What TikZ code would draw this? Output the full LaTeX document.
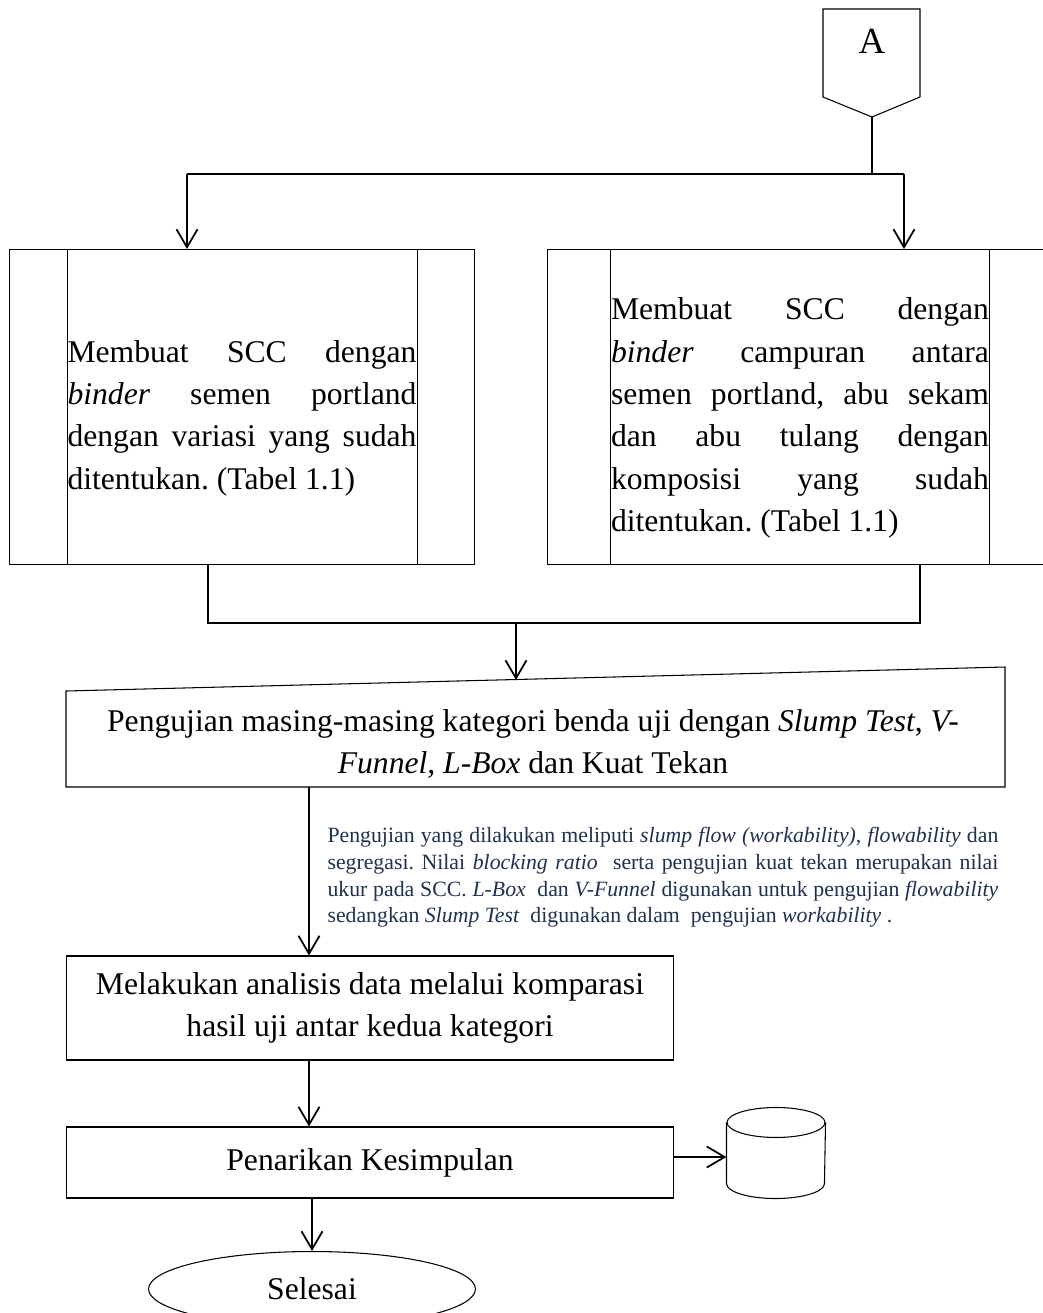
\documentclass[tikz,border=0pt]{standalone}
\usepackage{fontspec}
\setmainfont{Liberation Serif}
\usepackage{tikz, xcolor}
\usetikzlibrary{arrows.meta, shapes.geometric}

\definecolor{notecol}{HTML}{1F3050}
\newcommand{\bigtxt}{\fontsize{18}{24.1}\selectfont\frenchspacing}
\newcommand{\notetxt}{\fontsize{12.4}{15.2}\selectfont\frenchspacing}

\begin{document}
\begin{tikzpicture}[x=0.02cm, y=-0.02cm, line width=0.6pt,
    arr/.style={-{Straight Barb[length=3.6mm, width=4.2mm]}, line width=1pt},
    procbox/.style={rectangle, draw, inner sep=0pt, minimum height=6.3cm},
    proctext/.style={inner sep=0pt, font=\bigtxt, align=justify},
    stepbox/.style={rectangle, draw, inner sep=0pt, minimum width=12.15cm, font=\bigtxt, align=center},
    endnode/.style={ellipse, draw, inner sep=0pt, minimum width=6.54cm, minimum height=1.5cm, font=\bigtxt},
    store/.style={rectangle, inner sep=0pt, minimum height=1.8cm, minimum width=1.96cm}]

    \useasboundingbox (0,0) rectangle (1043,1313);

    % off-page connector
    \node[font=\fontsize{21}{24}\selectfont] (conA) at (872,41.5) {A};
    \coordinate (atip) at (872,117);
    \draw (823,9) -- (920,9) -- (920,97) -- (atip) -- (823,97) -- cycle;

    % two processes
    \node[procbox, minimum width=9.32cm] (mix1) at (242,407) {};
    \node[proctext, text width=6.98cm] (mix1txt) at (242,418)
        {Membuat SCC dengan\linebreak \textit{binder} semen portland\linebreak dengan variasi yang sudah\linebreak ditentukan. (Tabel 1.1)};
    \node[procbox, minimum width=10.12cm] (mix2) at (800,407) {};
    \node[proctext, text width=7.56cm] (mix2txt) at (800,418)
        {Membuat SCC dengan\linebreak \textit{binder} campuran antara\linebreak semen portland, abu sekam\linebreak dan abu tulang dengan\linebreak komposisi yang sudah\linebreak ditentukan. (Tabel 1.1)};
    \draw ([xshift=1.18cm]mix1.north west) -- ([xshift=1.18cm]mix1.south west);
    \draw ([xshift=-1.16cm]mix1.north east) -- ([xshift=-1.16cm]mix1.south east);
    \draw ([xshift=1.28cm]mix2.north west) -- ([xshift=1.28cm]mix2.south west);
    \draw ([xshift=-1.28cm]mix2.north east) -- ([xshift=-1.28cm]mix2.south east);

    % manual input
    \node[font=\bigtxt, align=center] (test) at (533,744)
        {Pengujian masing-masing kategori benda uji dengan \textit{Slump Test}, \textit{V-}\\ \textit{Funnel, L-Box} dan Kuat Tekan};
    \draw (66,691) -- (1005,667) -- (1005,787) -- (66,787) -- cycle;
    \coordinate (testin) at (516,680);
    \coordinate (testout) at (309,787);

    \node[anchor=north west, inner sep=0pt, text width=13.42cm, align=justify, font=\notetxt, text=notecol] (note) at (327,827)
        {Pengujian yang dilakukan meliputi \textit{slump flow (workability), flowability} dan\linebreak segregasi. Nilai \textit{blocking ratio}\ \ serta pengujian kuat tekan merupakan nilai\linebreak ukur pada SCC. \textit{L-Box}\ \ dan \textit{V-Funnel} digunakan untuk pengujian \textit{flowability}\linebreak sedangkan \textit{Slump Test}\ \ digunakan dalam\ \ pengujian \textit{workability} .};

    \node[stepbox, minimum height=2.08cm] (analisis) at (370,1008)
        {Melakukan analisis data melalui komparasi\\ hasil uji antar kedua kategori};
    \node[stepbox, minimum height=1.42cm] (simpul) at (370,1162.5) {Penarikan Kesimpulan};
    \node[endnode] (selesai) at (312,1289) {Selesai};

    % data store
    \node[store] (db) at (776,1153) {};
    \draw ([yshift=-0.3cm]db.north west) -- ([yshift=0.3cm]db.south west)
        arc[start angle=180, end angle=360, x radius=0.98cm, y radius=0.3cm]
        -- ([yshift=-0.3cm]db.north east);
    \draw ([yshift=-0.3cm]db.north) ellipse[x radius=0.98cm, y radius=0.3cm];

    % connectors
    \coordinate (split) at (872,174);
    \coordinate (splitL) at (187,174);
    \coordinate (splitR) at (904,174);
    \draw (atip) -- (split);
    \draw (splitL) -- (splitR);
    \draw[arr] (splitL) -- (splitL |- mix1.north);
    \draw[arr] (splitR) -- (splitR |- mix2.north);

    \coordinate (joinL) at (208,623);
    \coordinate (joinR) at (920,623);
    \coordinate (join) at (516,623);
    \draw (joinL |- mix1.south) -- (joinL) -- (joinR) -- (joinR |- mix2.south);
    \draw[arr] (join) -- (testin);

    \draw[arr] (testout) -- (testout |- analisis.north);
    \draw[arr] (testout |- analisis.south) -- (testout |- simpul.north);
    \draw[arr] (selesai.north |- simpul.south) -- (selesai.north);
    \draw[arr] (simpul.east |- 0,1157) -- (db.west |- 0,1157);
\end{tikzpicture}
\end{document}
